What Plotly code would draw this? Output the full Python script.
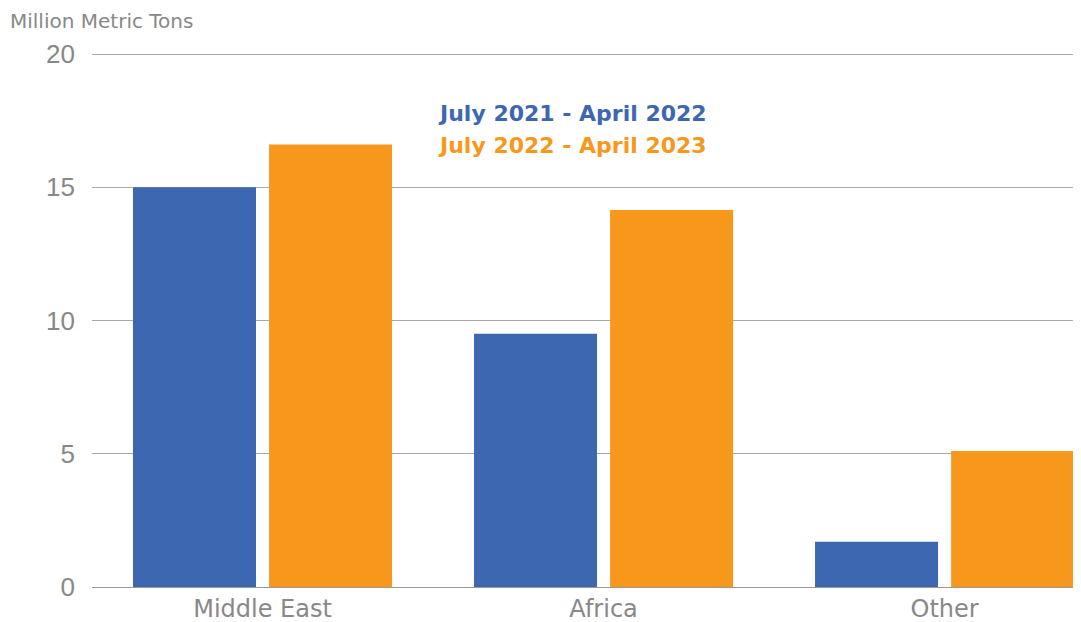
import plotly.graph_objects as go

regions = ["Middle East", "Africa", "Other"]
series_names = ["July 2021 - April 2022", "July 2022 - April 2023"]
values_2122 = [15.0, 9.5, 1.7]
values_2223 = [16.6, 14.15, 5.1]
colours = ["#3D67B1", "#F7981D"]
y_ticks = [0, 5, 10, 15, 20]

wide_font = "DejaVu Sans, Verdana, sans-serif"
narrow_font = "Liberation Sans, Arial, sans-serif"

fig = go.Figure()
for name, vals, col in zip(series_names, [values_2122, values_2223], colours):
    fig.add_bar(x=regions, y=vals, name=name, marker=dict(color=col, line=dict(width=0)))

# page body has an 8px margin, so the figure is trimmed by that much
fig.update_layout(
    width=1073, height=614,
    margin=dict(l=84, r=0, t=46, b=35),
    plot_bgcolor="#ffffff",
    paper_bgcolor="#ffffff",
    barmode="group",
    bargap=0.202,
    bargroupgap=0.096,
    showlegend=False,
    font=dict(family=narrow_font, color="#888888"),
)

fig.update_xaxes(
    range=[-0.5, 2.4],
    automargin=False,
    showgrid=False,
    showline=True, linecolor="#999999", linewidth=1,
    ticks="", tickfont=dict(size=24, color="#888888", family=wide_font),
    ticklabelstandoff=0,
)
fig.update_yaxes(
    range=[0, 20],
    automargin=False,
    tickvals=y_ticks,
    gridcolor="#aaaaaa", gridwidth=1,
    zeroline=False,
    showline=False,
    ticks="", tickfont=dict(size=26, color="#888888"),
    ticklabelstandoff=16,
)

# darker top rule at the max of the axis
fig.add_shape(type="line", xref="paper", yref="y", x0=0, x1=1, y0=y_ticks[-1], y1=y_ticks[-1],
              line=dict(color="#555555", width=1), layer="below")

fig.add_annotation(text="Million Metric Tons", xref="paper", yref="paper",
                   x=-0.085, y=1.061, xanchor="left", yanchor="middle",
                   showarrow=False, font=dict(size=20, color="#888888", family=wide_font))

# legend as coloured text
for i, (name, col) in enumerate(zip(series_names, colours)):
    fig.add_annotation(text="<b>" + name + "</b>", xref="paper", yref="paper",
                       x=0.486, y=0.889 - i * 0.06, xanchor="center", yanchor="middle",
                       showarrow=False, font=dict(size=22, color=col, family=wide_font))

fig.write_html("out.html")
